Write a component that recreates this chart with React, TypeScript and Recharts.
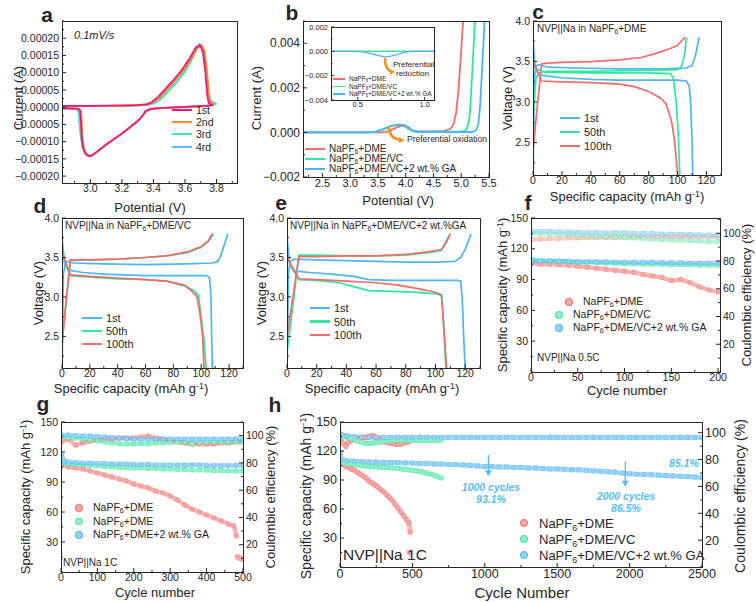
import React from "react";
import { LineChart, Line, XAxis, YAxis, ReferenceLine, ReferenceDot } from "recharts";

const FONT = '"Liberation Sans", Arial, Helvetica, sans-serif';
const INK = "#262626";

type P = [number, number];
type Box = { l: number; t: number; w: number; h: number };
const toXY = (a: P[]) => a.map(([x, y]) => ({ x, y }));

// ---------- a: CV curves (V, A)
const cvLabels = ["1st", "2nd", "3rd", "4rd"];
const cvColors = ["#f2167e", "#ff8b2b", "#3ee8c1", "#5bbcf6"];
const cv1st: P[] = [[2.82, 4e-6], [3.0, 4e-6], [3.2, 5e-6], [3.3, 6e-6], [3.36, 9e-6], [3.39, 1.5e-5], [3.43, 3e-5], [3.48, 5.5e-5], [3.53, 8e-5], [3.58, 1.08e-4], [3.63, 1.42e-4], [3.67, 1.74e-4], [3.695, 1.8e-4], [3.715, 1.6e-4], [3.73, 1.0e-4], [3.74, 4e-5], [3.75, 1.2e-5], [3.77, 6e-6], [3.74, 4e-6], [3.6, 1e-6], [3.45, -2e-6], [3.38, -5e-6], [3.35, -1.2e-5], [3.33, -2.5e-5], [3.3, -4e-5], [3.25, -5.8e-5], [3.2, -7.6e-5], [3.15, -9.2e-5], [3.1, -1.08e-4], [3.05, -1.26e-4], [3.01, -1.4e-4], [2.99, -1.42e-4], [2.97, -1.36e-4], [2.955, -1.2e-4], [2.945, -9e-5], [2.94, -4e-5], [2.935, -1e-5], [2.92, -4e-6], [2.82, -3e-6]];
const cv2nd: P[] = [[2.82, 3e-6], [3.2, 4e-6], [3.36, 7e-6], [3.4, 1.4e-5], [3.44, 2.8e-5], [3.49, 5.3e-5], [3.54, 7.8e-5], [3.59, 1.06e-4], [3.64, 1.4e-4], [3.68, 1.72e-4], [3.705, 1.8e-4], [3.725, 1.62e-4], [3.74, 1.05e-4], [3.75, 4.5e-5], [3.76, 1.5e-5], [3.78, 8e-6], [3.75, 4e-6], [3.6, 0], [3.45, -3e-6], [3.38, -6e-6], [3.35, -1.3e-5], [3.33, -2.6e-5], [3.3, -4.1e-5], [3.25, -5.9e-5], [3.2, -7.7e-5], [3.15, -9.3e-5], [3.1, -1.09e-4], [3.05, -1.27e-4], [3.01, -1.41e-4], [2.995, -1.43e-4], [2.975, -1.37e-4], [2.96, -1.2e-4], [2.95, -9e-5], [2.945, -4e-5], [2.94, -1e-5], [2.92, -4e-6], [2.82, -3e-6]];
const cv3rd: P[] = [[2.82, 3e-6], [3.2, 4e-6], [3.37, 7e-6], [3.41, 1.3e-5], [3.45, 2.6e-5], [3.5, 5e-5], [3.55, 7.5e-5], [3.6, 1.04e-4], [3.64, 1.36e-4], [3.67, 1.68e-4], [3.69, 1.83e-4], [3.71, 1.7e-4], [3.73, 1.1e-4], [3.745, 4.5e-5], [3.76, 1.6e-5], [3.785, 9e-6], [3.75, 5e-6], [3.6, 1e-6], [3.45, -3e-6], [3.38, -6e-6], [3.35, -1.4e-5], [3.33, -2.7e-5], [3.3, -4.2e-5], [3.25, -6e-5], [3.2, -7.8e-5], [3.15, -9.4e-5], [3.1, -1.1e-4], [3.05, -1.28e-4], [3.01, -1.4e-4], [2.99, -1.41e-4], [2.97, -1.35e-4], [2.95, -1.18e-4], [2.94, -8.5e-5], [2.93, -4e-5], [2.925, -1e-5], [2.91, -5e-6], [2.82, -4e-6]];
const cv4th: P[] = [[2.82, 3e-6], [3.2, 3e-6], [3.37, 6e-6], [3.41, 1.2e-5], [3.45, 2.5e-5], [3.5, 4.9e-5], [3.55, 7.4e-5], [3.6, 1.03e-4], [3.64, 1.35e-4], [3.67, 1.67e-4], [3.69, 1.82e-4], [3.71, 1.72e-4], [3.73, 1.12e-4], [3.745, 4.8e-5], [3.765, 1.8e-5], [3.795, 1e-5], [3.76, 5e-6], [3.6, 1e-6], [3.45, -3e-6], [3.38, -6e-6], [3.35, -1.4e-5], [3.33, -2.7e-5], [3.3, -4.2e-5], [3.25, -6e-5], [3.2, -7.8e-5], [3.15, -9.4e-5], [3.1, -1.1e-4], [3.05, -1.28e-4], [3.01, -1.39e-4], [2.99, -1.4e-4], [2.97, -1.34e-4], [2.95, -1.17e-4], [2.94, -8.5e-5], [2.93, -4e-5], [2.925, -1e-5], [2.91, -6e-6], [2.82, -5e-6]];
const cvData = [cv1st, cv2nd, cv3rd, cv4th];

// ---------- b: LSV (V, A)
const lsvColors = ["#f66b6b", "#2ee89a", "#4ab4f8"];
const lsvRed: P[] = [[2.15, 0], [3.55, 0], [3.65, 2e-5], [3.72, 8e-5], [3.8, 1.8e-4], [3.88, 2.7e-4], [3.93, 3e-4], [3.98, 2.7e-4], [4.05, 1.7e-4], [4.12, 9e-5], [4.2, 6e-5], [4.5, 5e-5], [4.7, 7e-5], [4.8, 1.5e-4], [4.86, 3.5e-4], [4.91, 9e-4], [4.95, 1.9e-3], [4.99, 3.3e-3], [5.02, 4.5e-3], [5.05, 5.6e-3]];
const lsvGreen: P[] = [[2.15, 0], [3.35, 0], [3.45, 4e-5], [3.55, 1.1e-4], [3.65, 2.2e-4], [3.75, 3e-4], [3.85, 3.4e-4], [3.95, 3.3e-4], [4.02, 2.6e-4], [4.08, 1.2e-4], [4.15, 4e-5], [4.5, 3e-5], [4.95, 3e-5], [5.05, 6e-5], [5.1, 1.6e-4], [5.14, 5e-4], [5.17, 1.4e-3], [5.2, 2.8e-3], [5.23, 4.2e-3], [5.26, 5.6e-3]];
const lsvBlue: P[] = [[2.15, 0], [3.38, 0], [3.48, 4e-5], [3.58, 1.1e-4], [3.68, 2.2e-4], [3.78, 3.1e-4], [3.88, 3.5e-4], [3.97, 3.4e-4], [4.05, 2.4e-4], [4.12, 8e-5], [4.2, 2e-5], [4.8, 1e-5], [5.2, 2e-5], [5.27, 1e-4], [5.31, 4e-4], [5.34, 1.2e-3], [5.37, 2.6e-3], [5.4, 4e-3], [5.43, 5.6e-3]];
const lsvData = [lsvRed, lsvGreen, lsvBlue];
const insetRed: P[] = [[0.3, 0], [1.07, 0]];
const insetGreen: P[] = [[0.3, 0], [1.07, 0]];
const insetBlue: P[] = [[0.3, 0], [0.5, 0], [0.55, -6e-5], [0.6, -1.8e-4], [0.65, -3.3e-4], [0.7, -4.5e-4], [0.75, -4e-4], [0.8, -2.5e-4], [0.85, -9e-5], [0.9, 0], [1.07, 0]];
const insetData = [insetRed, insetGreen, insetBlue];

// ---------- c, d, e: charge / discharge (mAh/g, V)
const gcdLabels = ["1st", "50th", "100th"];
const gcdColors = ["#4db6f7", "#2fe89d", "#f36b6b"];
const cBlueCh: P[] = [[0, 2.1], [1, 3.3], [2, 3.44], [4, 3.46], [10, 3.43], [30, 3.42], [60, 3.41], [90, 3.41], [106, 3.42], [110, 3.45], [112, 3.55], [115, 3.8]];
const cBlueDis: P[] = [[0, 3.75], [1.5, 3.42], [4, 3.34], [10, 3.32], [20, 3.3], [40, 3.28], [60, 3.27], [80, 3.27], [100, 3.27], [106, 3.26], [108, 3.2], [109, 3.0], [110, 2.5], [110.5, 2.1]];
const cGreenCh: P[] = [[0, 2.8], [2, 3.3], [5, 3.37], [10, 3.38], [40, 3.38], [80, 3.39], [100, 3.4], [103, 3.45], [105, 3.6], [106, 3.8]];
const cGreenDis: P[] = [[0, 3.5], [3, 3.4], [8, 3.37], [40, 3.36], [80, 3.36], [95, 3.35], [97, 3.3], [99, 3.0], [100.5, 2.6], [101.5, 2.1]];
const cRedCh: P[] = [[0, 2.4], [3, 2.95], [6, 3.47], [10, 3.48], [20, 3.49], [40, 3.5], [60, 3.52], [75, 3.55], [85, 3.6], [95, 3.66], [100, 3.7], [105, 3.8]];
const cRedDis: P[] = [[0, 3.5], [3, 3.38], [6, 3.26], [20, 3.25], [40, 3.24], [60, 3.22], [70, 3.19], [80, 3.13], [88, 3.05], [92, 2.98], [96, 2.75], [98, 2.5], [100, 2.1]];

const dBlueCh: P[] = [[0, 2.1], [1, 3.3], [3, 3.45], [8, 3.43], [30, 3.42], [60, 3.41], [90, 3.42], [108, 3.43], [112, 3.45], [114, 3.52], [116, 3.63], [119, 3.8]];
const dBlueDis: P[] = [[0, 3.75], [2, 3.4], [5, 3.34], [15, 3.31], [30, 3.29], [60, 3.27], [90, 3.27], [104, 3.27], [106, 3.24], [107, 3.0], [107.5, 2.5], [108, 2.1]];
const dGreenCh: P[] = [[0, 2.4], [3, 2.95], [6, 3.46], [20, 3.47], [40, 3.48], [60, 3.5], [75, 3.52], [90, 3.56], [100, 3.63], [105, 3.7], [109, 3.8]];
const dGreenDis: P[] = [[0, 3.55], [3, 3.4], [6, 3.27], [20, 3.25], [40, 3.23], [60, 3.22], [75, 3.2], [88, 3.14], [95, 3.08], [98, 3.02], [100, 2.75], [102, 2.45], [103.5, 2.1]];
const dRedCh: P[] = [[0, 2.4], [3, 2.95], [6, 3.47], [20, 3.47], [40, 3.48], [60, 3.5], [75, 3.52], [90, 3.57], [100, 3.64], [105, 3.71], [108, 3.8]];
const dRedDis: P[] = [[0, 3.57], [3, 3.42], [6, 3.28], [20, 3.26], [40, 3.24], [60, 3.22], [75, 3.2], [88, 3.15], [94, 3.06], [97, 3.0], [99, 2.8], [101, 2.5], [102, 2.1]];

const eBlueCh: P[] = [[0, 2.1], [1, 3.3], [2, 3.45], [5, 3.48], [20, 3.47], [40, 3.46], [60, 3.45], [80, 3.44], [100, 3.44], [113, 3.45], [117, 3.5], [120, 3.6], [124, 3.8]];
const eBlueDis: P[] = [[0, 3.75], [2, 3.4], [5, 3.33], [15, 3.31], [30, 3.29], [45, 3.26], [55, 3.22], [70, 3.21], [90, 3.21], [115, 3.21], [117, 3.2], [118, 3.0], [119, 2.5], [120, 2.1]];
const eGreenCh: P[] = [[0, 2.3], [4, 2.9], [8, 3.53], [20, 3.53], [40, 3.52], [60, 3.52], [80, 3.53], [95, 3.56], [104, 3.59], [107, 3.7], [110, 3.8]];
const eGreenDis: P[] = [[0, 3.5], [4, 3.35], [8, 3.22], [20, 3.21], [35, 3.18], [45, 3.13], [55, 3.08], [70, 3.07], [85, 3.06], [100, 3.04], [104, 3.02], [105, 2.8], [106, 2.5], [107, 2.1]];
const eRedCh: P[] = [[0, 2.5], [4, 3.0], [8, 3.51], [20, 3.51], [40, 3.52], [60, 3.52], [80, 3.54], [95, 3.57], [104, 3.6], [107, 3.68], [110, 3.8]];
const eRedDis: P[] = [[0, 3.5], [4, 3.36], [8, 3.23], [20, 3.22], [40, 3.2], [60, 3.18], [75, 3.15], [90, 3.1], [100, 3.06], [104, 3.03], [105, 2.8], [106, 2.5], [107.5, 2.1]];

// ---------- f, g, h: cycling (cycle, mAh/g) and (cycle, %)
const red = { line: "#f0605f", fill: "#f7aaa7" };
const green = { line: "#2ee39a", fill: "#95f0c8" };
const blue = { line: "#3aaef0", fill: "#95d2f7" };

const fRedCap: P[] = [[1, 106], [10, 105], [20, 105], [30, 104.5], [40, 104], [50, 103], [60, 102], [70, 101], [80, 100], [90, 99], [100, 98], [110, 97], [120, 95], [130, 93.5], [140, 92], [150, 89], [160, 90], [170, 87], [180, 83], [190, 80], [200, 78]];
const fGreenCap: P[] = [[1, 110], [10, 108.5], [20, 108], [30, 108], [40, 107.5], [50, 107], [60, 107], [70, 106.5], [80, 106], [90, 106], [100, 105.5], [110, 105.5], [120, 105], [130, 105], [140, 105], [150, 104.5], [160, 104.5], [170, 104.5], [180, 104], [190, 104], [200, 104]];
const fBlueCap: P[] = [[1, 108], [10, 108], [20, 108], [30, 108], [40, 108], [50, 107.5], [60, 107.5], [70, 107.5], [80, 107.5], [90, 107], [100, 107], [110, 107], [120, 107], [130, 107], [140, 106.5], [150, 106.5], [160, 106.5], [170, 106], [180, 106], [190, 106], [200, 106]];
const fRedCE: P[] = [[1, 95.5], [10, 95.8], [20, 96.2], [30, 96.2], [40, 96.6], [50, 96.6], [60, 96.9], [70, 96.9], [80, 96.9], [90, 96.9], [100, 97.3], [110, 97.3], [120, 97.3], [130, 97.3], [140, 97.7], [150, 97.7], [160, 97.7], [170, 97.7], [180, 97.7], [190, 97.7], [200, 97.7]];
const fGreenCE: P[] = [[1, 99.9], [10, 99.9], [20, 99.5], [30, 99.2], [40, 99.2], [50, 98.8], [60, 98.4], [70, 98.1], [80, 97.7], [90, 97.3], [100, 96.9], [110, 96.6], [120, 96.2], [130, 95.8], [140, 95.5], [150, 95.1], [160, 94.7], [170, 94.7], [180, 94.4], [190, 94], [200, 94]];
const fBlueCE: P[] = [[1, 101.4], [10, 101.4], [20, 101.4], [30, 101], [40, 101], [50, 100.6], [60, 100.6], [70, 100.6], [80, 100.3], [90, 100.3], [100, 100.3], [110, 99.9], [120, 99.9], [130, 99.9], [140, 99.5], [150, 99.5], [160, 99.2], [170, 99.2], [180, 98.8], [190, 98.8], [200, 98.4]];

const gRedCap: P[] = [[1, 107], [20, 105], [40, 104], [60, 103], [80, 101], [100, 99], [120, 97], [140, 95], [160, 93], [180, 91], [200, 88], [220, 86], [240, 84], [260, 81], [280, 79], [300, 76], [320, 72], [340, 67], [360, 63], [380, 60], [400, 57], [420, 54], [440, 51], [460, 48], [475, 46], [482, 36]];
const gRedTail: P[] = [[485, 15], [490, 14], [495, 13.5], [500, 13]];
const gRedCE: P[] = [[1, 95.3], [20, 97.5], [40, 93], [60, 94.6], [80, 96], [100, 96.8], [120, 97.5], [140, 97.5], [160, 98.2], [180, 98.2], [200, 98.2], [220, 99], [240, 99.7], [260, 98.2], [280, 97.5], [300, 96], [320, 95.3], [340, 94.6], [360, 93.8], [380, 93.8], [400, 93.8], [420, 93.8], [440, 94.6], [460, 94.6], [480, 95.3], [500, 95.3]];
const gGreenCap: P[] = [[1, 109], [20, 108], [40, 107.5], [60, 107], [80, 106.5], [100, 106], [120, 105.5], [140, 105], [160, 104.5], [180, 104.5], [200, 104], [220, 104], [240, 103.5], [260, 103.5], [280, 103], [300, 103], [320, 102.5], [340, 102.5], [360, 102], [380, 102], [400, 102], [420, 101.5], [440, 101.5], [460, 101], [480, 101], [500, 101]];
const gGreenCE: P[] = [[1, 99], [20, 98.6], [40, 98.2], [60, 97.5], [80, 96.8], [100, 96], [120, 95.3], [140, 94.6], [160, 94], [180, 93.8], [200, 93.8], [220, 94], [240, 94.2], [260, 94.6], [280, 94.6], [300, 95], [320, 95.3], [340, 95.3], [360, 94], [380, 95.3], [400, 95.3], [420, 95.3], [440, 95.3], [460, 95.3], [480, 95.3], [500, 95.3]];
const gBlueCap: P[] = [[1, 117], [10, 111], [20, 110], [40, 109.5], [60, 109], [80, 109], [100, 108.5], [120, 108.5], [140, 108], [160, 108], [180, 108], [200, 107.5], [220, 107.5], [240, 107.5], [260, 107], [280, 107], [300, 107], [320, 107], [340, 107], [360, 107], [380, 107], [400, 106.5], [420, 106.5], [440, 106.5], [460, 106.5], [480, 106.5], [500, 106.5]];
const gBlueCE: P[] = [[1, 100.4], [20, 100.4], [40, 100], [60, 99.7], [80, 99.7], [100, 99.3], [120, 99], [140, 98.6], [160, 98.2], [180, 97.9], [200, 97.5], [220, 97.5], [240, 97.5], [260, 97.5], [280, 97.5], [300, 97.5], [320, 97.5], [340, 97.5], [360, 97.5], [380, 97.5], [400, 97.5], [420, 97.5], [440, 97.5], [460, 97.5], [480, 97.5], [500, 97.5]];

const hRedCap: P[] = [[1, 108], [20, 106], [40, 104], [60, 103], [80, 101], [100, 100], [120, 98], [140, 96], [160, 94], [180, 92], [200, 89], [220, 87], [240, 85], [260, 83], [280, 80], [300, 78], [320, 75], [340, 72], [360, 69], [380, 65], [400, 61], [420, 57], [440, 53], [460, 49], [475, 46], [485, 36]];
const hRedTail: P[] = [[480, 15]];
const hRedCE: P[] = [[1, 95], [20, 92.2], [40, 90], [60, 92.9], [80, 94.3], [100, 95], [120, 95.8], [140, 95.8], [160, 96.5], [180, 96.5], [200, 97.2], [220, 97.9], [240, 97.2], [260, 95.8], [280, 94.3], [300, 93.6], [320, 92.9], [340, 92.2], [360, 92.2], [380, 91.4], [400, 91.4], [420, 91.4], [440, 92.2], [460, 92.9], [480, 93.6]];
const hGreenCap: P[] = [[1, 110], [25, 108], [50, 107], [75, 106.5], [100, 106], [125, 105.5], [150, 105], [175, 104.5], [200, 104], [225, 104], [250, 103.5], [275, 103.5], [300, 103], [325, 103], [350, 102.5], [375, 102.5], [400, 102], [425, 101.5], [450, 101], [475, 100.5], [500, 100], [525, 99.5], [550, 99], [575, 98], [600, 97], [625, 96], [650, 95], [675, 93.5], [700, 92]];
const hGreenCE: P[] = [[1, 98.6], [25, 97.2], [50, 96.5], [75, 95.8], [100, 95], [125, 93.6], [150, 92.9], [175, 92.2], [200, 92.2], [225, 92.2], [250, 92.9], [275, 92.9], [300, 93.6], [325, 93.6], [350, 94.3], [375, 94.3], [400, 94.3], [425, 94.3], [450, 94.3], [475, 94.3], [500, 94.3], [525, 94.3], [550, 94.3], [575, 94.3], [600, 94.3], [625, 94.3], [650, 94.3], [675, 94.3], [700, 94.3]];
const hBlueCap: P[] = [[1, 118], [10, 111], [50, 110], [100, 109.5], [150, 109], [200, 108.5], [250, 108.5], [300, 108], [350, 108], [400, 108], [450, 107.5], [500, 107.5], [550, 107], [600, 107], [650, 106.5], [700, 106.5], [750, 106], [800, 106], [850, 105.5], [900, 105], [950, 104.5], [1000, 104], [1050, 104], [1100, 103.5], [1150, 103.5], [1200, 103], [1250, 103], [1300, 102.5], [1350, 102.5], [1400, 102], [1450, 101.5], [1500, 101.5], [1550, 101], [1600, 100.5], [1650, 100.5], [1700, 100], [1750, 99.5], [1800, 99], [1850, 98.5], [1900, 98], [1950, 97], [2000, 96.5], [2050, 96], [2100, 95.8], [2150, 95.5], [2200, 95], [2250, 94.6], [2300, 94.2], [2350, 93.8], [2400, 93.5], [2450, 93], [2500, 92.5]];
const hBlueCE: P[] = [[1, 99.5], [10, 98.5], [50, 97.5], [100, 97], [150, 96.8], [200, 96.6], [250, 96.5], [300, 96.4], [350, 96.6], [400, 96.5], [450, 96.4], [500, 96.5], [550, 96.6], [600, 96.5], [650, 96.4], [700, 96.5], [750, 96.5], [800, 96.4], [850, 96.6], [900, 96.5], [950, 96.4], [1000, 96.5], [1050, 96.5], [1100, 96.4], [1150, 96.6], [1200, 96.5], [1250, 96.4], [1300, 96.5], [1350, 96.5], [1400, 96.4], [1450, 96.6], [1500, 96.5], [1550, 96.4], [1600, 96.5], [1650, 96.5], [1700, 96.4], [1750, 96.6], [1800, 96.5], [1850, 96.4], [1900, 96.5], [1950, 96.5], [2000, 96.4], [2050, 96.6], [2100, 96.5], [2150, 96.4], [2200, 96.5], [2250, 96.5], [2300, 96.4], [2350, 96.6], [2400, 96.5], [2450, 96.4], [2500, 96.5]];
const hArrows = [{ x: 1025, from: 116, to: 94 }, { x: 1970, from: 109, to: 83 }];

// ---------- helpers
const allTicks = (lo: number, hi: number, step: number) => {
  const out: number[] = [];
  for (let k = Math.ceil(lo / step - 1e-9); k * step <= hi + 1e-12; k++) out.push(+(k * step).toFixed(9));
  return out;
};
const near = (a: number[], v: number) => a.some((m) => Math.abs(m - v) < 1e-9);
const sgn = (s: string, v: number) => (v < 0 ? "\u2212" : "") + s;
const f5 = (v: number) => sgn(Math.abs(v).toFixed(5), v);
const f3 = (v: number) => sgn(Math.abs(v).toFixed(3), v);
const f1 = (v: number) => v.toFixed(1);
const f0 = (v: number) => String(v);

function tickFn(orient: "left" | "right" | "bottom", majors: number[], fmt: (v: number) => string, size: number, len = 4) {
  return (p: any) => {
    const { x, y, payload } = p;
    const v = payload.value;
    const major = near(majors, v);
    const l = major ? len : len / 2;
    if (orient === "bottom") {
      return (
        <g>
          <line x1={x} x2={x} y1={y} y2={y - l} stroke={INK} strokeWidth={1} />
          {major && (
            <text x={x} y={y + 2} dy="0.71em" textAnchor="middle" fontSize={size} fontFamily={FONT} fill={INK}>
              {fmt(v)}
            </text>
          )}
        </g>
      );
    }
    const dir = orient === "left" ? 1 : -1;
    return (
      <g>
        <line x1={x} x2={x + dir * l} y1={y} y2={y} stroke={INK} strokeWidth={1} />
        {major && (
          <text x={x - dir * 3} y={y} dy="0.35em" textAnchor={orient === "left" ? "end" : "start"} fontSize={size} fontFamily={FONT} fill={INK}>
            {fmt(v)}
          </text>
        )}
      </g>
    );
  };
}

const axisBase = { type: "number" as const, interval: 0 as const, tickSize: 0, tickMargin: 0, axisLine: false, tickLine: false, allowDataOverflow: true };

function T({ x, y, s = 12, rot = 0, a = "m", b = false, i = false, c = INK, children }: any) {
  const tx = a === "m" ? "-50%" : a === "e" ? "-100%" : "0";
  return (
    <div style={{ position: "absolute", left: x, top: y, transform: `translate(${tx},-50%) rotate(${rot}deg)`, fontSize: s, fontWeight: b ? 700 : 400, fontStyle: i ? "italic" : "normal", color: c, whiteSpace: "nowrap", lineHeight: 1, fontFamily: FONT }}>
      {children}
    </div>
  );
}
const Sub = ({ children }: any) => <span style={{ fontSize: "0.68em", position: "relative", top: "0.3em" }}>{children}</span>;
const Sup = ({ children }: any) => <span style={{ fontSize: "0.68em", position: "relative", top: "-0.5em" }}>{children}</span>;
const Na = () => <>NaPF<Sub>6</Sub></>;
const Cap = () => <>Specific capacity (mAh g<Sup>-1</Sup>)</>;

const Frame = ({ b }: { b: Box }) => (
  <div style={{ position: "absolute", left: b.l, top: b.t, width: b.w + 1, height: b.h + 1, border: `1px solid ${INK}`, boxSizing: "border-box" }} />
);

function LineKey({ x, y, color, w = 20, th = 2.2, s = 10.5, children }: any) {
  return (
    <>
      <div style={{ position: "absolute", left: x, top: y - th / 2, width: w, height: th, background: color }} />
      <T x={x + w + 4} y={y} s={s} a="s">{children}</T>
    </>
  );
}
function DotKey({ x, y, col, s = 10.5, gap = 14, r = 3.6, children }: any) {
  return (
    <>
      <div style={{ position: "absolute", left: x - r, top: y - r, width: 2 * r, height: 2 * r, borderRadius: "50%", background: col.fill, border: `1px solid ${col.line}`, boxSizing: "border-box" }} />
      <T x={x + gap} y={y} s={s} a="s">{children}</T>
    </>
  );
}

function Chart({ b, lw, rw = 8, bh = 26, pt = 9, hasRight = false, children }: any) {
  return (
    <div style={{ position: "absolute", left: b.l - lw, top: b.t - pt }}>
      <LineChart width={lw + b.w + rw} height={pt + b.h + bh} margin={{ top: pt, right: hasRight ? 0 : rw, bottom: 0, left: 0 }}>
        {children}
      </LineChart>
    </div>
  );
}

// ---------- boxes
const A: Box = { l: 62, t: 21, w: 175, h: 162 };
const B: Box = { l: 303, t: 21, w: 186, h: 156 };
const BI: Box = { l: 331, t: 27, w: 103, h: 73 };
const C: Box = { l: 533, t: 21, w: 188, h: 154 };
const D: Box = { l: 62, t: 218, w: 181, h: 150 };
const E: Box = { l: 287, t: 218, w: 193, h: 150 };
const F: Box = { l: 531, t: 218, w: 189, h: 154 };
const G: Box = { l: 61, t: 422, w: 182, h: 150 };
const H: Box = { l: 340, t: 422, w: 362, h: 145 };

const aX = [3.0, 3.2, 3.4, 3.6, 3.8];
const aY = [-0.0002, -0.00015, -0.0001, -0.00005, 0, 0.00005, 0.0001, 0.00015, 0.0002];
const bX = [2.5, 3.0, 3.5, 4.0, 4.5, 5.0, 5.5];
const bY = [-0.002, 0, 0.002, 0.004];
const biX = [0.5, 1.0];
const biY = [-0.004, -0.002, 0, 0.002];
const gcdX = [0, 20, 40, 60, 80, 100, 120];
const gcdY = [2.5, 3.0, 3.5, 4.0];
const capY = [30, 60, 90, 120, 150];
const ceY = [20, 40, 60, 80, 100];
const fX = [0, 50, 100, 150, 200];
const gX = [0, 100, 200, 300, 400, 500];
const hX = [0, 500, 1000, 1500, 2000, 2500];

function GCD({ b, ch, dis }: { b: Box; ch: P[][]; dis: P[][] }) {
  return (
    <Chart b={b} lw={30}>
      <XAxis {...axisBase} dataKey="x" domain={[0, 130]} ticks={allTicks(0, 130, 10)} height={26} tick={tickFn("bottom", gcdX, f0, 10.5)} />
      <YAxis {...axisBase} domain={[2.1, 4.0]} ticks={allTicks(2.1, 4.0, 0.25)} width={30} tick={tickFn("left", gcdY, f1, 10.5)} />
      {[0, 1, 2].map((k) => (
        <Line key={"c" + k} data={toXY(ch[k])} dataKey="y" stroke={gcdColors[k]} strokeWidth={1.7} dot={false} isAnimationActive={false} type="linear" />
      ))}
      {[0, 1, 2].map((k) => (
        <Line key={"d" + k} data={toXY(dis[k])} dataKey="y" stroke={gcdColors[k]} strokeWidth={1.7} dot={false} isAnimationActive={false} type="linear" />
      ))}
    </Chart>
  );
}

type Ser = { cap: P[]; ce: P[]; col: { line: string; fill: string }; ceCol: { line: string; fill: string } };

function Cyc({ b, xd, xt, xMaj, rd, ser, extra, size = 10.5, lw = 28, rw = 26, bw = 4.5, r = 2.3, children }: any) {
  return (
    <Chart b={b} lw={lw} rw={rw} hasRight bh={28}>
      <XAxis {...axisBase} dataKey="x" domain={xd} ticks={allTicks(xd[0], xd[1], xt)} height={28} tick={tickFn("bottom", xMaj, f0, size)} />
      <YAxis {...axisBase} yAxisId="L" domain={[0, 150]} ticks={allTicks(0, 150, 15)} width={lw} tick={tickFn("left", capY, f0, size)} />
      <YAxis {...axisBase} yAxisId="R" orientation="right" domain={[0, rd]} ticks={allTicks(0, rd, 10)} width={rw} tick={tickFn("right", ceY, f0, size)} />
      {ser.map((s: Ser, k: number) => (
        <Line key={"ce" + k} yAxisId="R" data={toXY(s.ce)} dataKey="y" stroke={s.ceCol.line} strokeOpacity={0.45} strokeWidth={bw} dot={{ r, stroke: s.ceCol.line, strokeWidth: 0.8, fill: s.ceCol.fill }} activeDot={false} isAnimationActive={false} type="linear" />
      ))}
      {ser.map((s: Ser, k: number) => (
        <Line key={"cap" + k} yAxisId="L" data={toXY(s.cap)} dataKey="y" stroke={s.col.line} strokeOpacity={0.45} strokeWidth={bw} dot={{ r, stroke: s.col.line, strokeWidth: 0.8, fill: s.col.fill }} activeDot={false} isAnimationActive={false} type="linear" />
      ))}
      {extra &&
        extra.map((t: P[], k: number) => (
          <Line key={"tail" + k} yAxisId="L" data={toXY(t)} dataKey="y" stroke={red.line} strokeOpacity={0} dot={{ r: r + 0.6, stroke: red.line, strokeWidth: 0.8, fill: red.fill }} activeDot={false} isAnimationActive={false} type="linear" />
        ))}
      {children}
    </Chart>
  );
}

const fLight = {
  red: { line: "#f3a08e", fill: "#f8c9bd" },
  green: { line: "#6fe6ae", fill: "#b5f3d6" },
  blue: { line: "#74c6f4", fill: "#b7e1f9" },
};

const arrowHead = (color: string) => (p: any) => (
  <path d={`M${p.cx - 3.5},${p.cy - 6} L${p.cx + 3.5},${p.cy - 6} L${p.cx},${p.cy} Z`} fill={color} />
);

export default function App() {
  const hBlueTxt = "#55bdf3";
  return (
    <div style={{ position: "absolute", left: 0, top: 0, width: 756, height: 602, background: "#fff", overflow: "hidden", fontFamily: FONT }}>
      {/* a */}
      <Chart b={A} lw={60}>
        <XAxis {...axisBase} dataKey="x" domain={[2.82, 3.93]} ticks={allTicks(2.82, 3.93, 0.1)} height={26} tick={tickFn("bottom", aX, f1, 10.5)} />
        <YAxis {...axisBase} domain={[-0.00022, 0.00025]} ticks={allTicks(-0.00022, 0.00025, 0.000025)} width={60} tick={tickFn("left", aY, f5, 10.5)} />
        {[3, 2, 1, 0].map((k) => (
          <Line key={k} data={toXY(cvData[k])} dataKey="y" stroke={cvColors[k]} strokeWidth={1.8} dot={false} isAnimationActive={false} type="linear" />
        ))}
      </Chart>
      {/* b */}
      <Chart b={B} lw={44} rw={12}>
        <XAxis {...axisBase} dataKey="x" domain={[2.15, 5.5]} ticks={allTicks(2.15, 5.5, 0.25)} height={26} tick={tickFn("bottom", bX, f1, 11)} />
        <YAxis {...axisBase} domain={[-0.002, 0.005]} ticks={allTicks(-0.002, 0.005, 0.001)} width={44} tick={tickFn("left", bY, f3, 12)} />
        {lsvData.map((d, k) => (
          <Line key={k} data={toXY(d)} dataKey="y" stroke={lsvColors[k]} strokeWidth={1.8} dot={false} isAnimationActive={false} type="linear" />
        ))}
      </Chart>
      <Chart b={BI} lw={28} bh={14} rw={6} pt={5}>
        <XAxis {...axisBase} dataKey="x" domain={[0.3, 1.07]} ticks={allTicks(0.3, 1.07, 0.25)} height={14} tick={tickFn("bottom", biX, f1, 7.5, 3)} />
        <YAxis {...axisBase} domain={[-0.004, 0.002]} ticks={allTicks(-0.004, 0.002, 0.001)} width={28} tick={tickFn("left", biY, f3, 7.5, 3)} />
        {insetData.map((d, k) => (
          <Line key={k} data={toXY(d)} dataKey="y" stroke={lsvColors[k]} strokeWidth={1.3} dot={false} isAnimationActive={false} type="linear" />
        ))}
      </Chart>
      {/* c d e */}
      <GCD b={C} ch={[cBlueCh, cGreenCh, cRedCh]} dis={[cBlueDis, cGreenDis, cRedDis]} />
      <GCD b={D} ch={[dBlueCh, dGreenCh, dRedCh]} dis={[dBlueDis, dGreenDis, dRedDis]} />
      <GCD b={E} ch={[eBlueCh, eGreenCh, eRedCh]} dis={[eBlueDis, eGreenDis, eRedDis]} />
      {/* f */}
      <Cyc b={F} xd={[0, 202]} xt={25} xMaj={fX} rd={111} lw={28} rw={26}
        ser={[
          { cap: fRedCap, ce: fRedCE, col: red, ceCol: fLight.red },
          { cap: fGreenCap, ce: fGreenCE, col: green, ceCol: fLight.green },
          { cap: fBlueCap, ce: fBlueCE, col: blue, ceCol: fLight.blue },
        ]} />
      {/* g */}
      <Cyc b={G} xd={[0, 500]} xt={50} xMaj={gX} rd={110} lw={30} rw={24} extra={[gRedTail]}
        ser={[
          { cap: gRedCap, ce: gRedCE, col: red, ceCol: red },
          { cap: gGreenCap, ce: gGreenCE, col: green, ceCol: green },
          { cap: gBlueCap, ce: gBlueCE, col: blue, ceCol: blue },
        ]} />
      {/* h */}
      <Cyc b={H} xd={[0, 2500]} xt={250} xMaj={hX} rd={108} size={12.5} lw={34} rw={30} bw={5} r={2.4} extra={[hRedTail]}
        ser={[
          { cap: hRedCap, ce: hRedCE, col: red, ceCol: red },
          { cap: hGreenCap, ce: hGreenCE, col: green, ceCol: green },
          { cap: hBlueCap, ce: hBlueCE, col: blue, ceCol: blue },
        ]}>
        {hArrows.map((a, k) => (
          <ReferenceLine key={"al" + k} yAxisId="L" segment={[{ x: a.x, y: a.from }, { x: a.x, y: a.to + 3 }]} stroke={hBlueTxt} strokeWidth={1.3} ifOverflow="visible" />
        ))}
        {hArrows.map((a, k) => (
          <ReferenceDot key={"ah" + k} yAxisId="L" x={a.x} y={a.to} r={3} shape={arrowHead(hBlueTxt)} ifOverflow="visible" />
        ))}
      </Cyc>

      {/* frames */}
      {[A, B, BI, C, D, E, F, G, H].map((b, k) => (
        <Frame key={k} b={b} />
      ))}

      {/* orange annotation arrows in b */}
      <svg width={756} height={602} style={{ position: "absolute", left: 0, top: 0, pointerEvents: "none" }}>
        <path d="M385,59 Q385,69 391,71.5" stroke="#f7931e" strokeWidth={2.6} fill="none" strokeLinecap="round" />
        <path d="M390,69 L395,72 L390,74.5 Z" fill="#f7931e" />
        <path d="M389,127 Q389,138 400,140" stroke="#f7931e" strokeWidth={2.6} fill="none" strokeLinecap="round" />
        <path d="M399,137 L405,140.5 L399,143 Z" fill="#f7931e" />
      </svg>

      {/* panel letters */}
      <T x={47} y={14} s={21} b>a</T>
      <T x={292} y={12} s={21} b>b</T>
      <T x={538} y={11} s={21} b>c</T>
      <T x={40} y={205} s={21} b>d</T>
      <T x={281} y={202} s={21} b>e</T>
      <T x={528} y={202} s={21} b>f</T>
      <T x={43} y={403} s={21} b>g</T>
      <T x={275} y={404} s={21} b>h</T>

      {/* a texts */}
      <T x={18} y={98} s={13} rot={-90}>Current (A)</T>
      <T x={150} y={207} s={13}>Potential (V)</T>
      <T x={74} y={35} s={11} i a="s">0.1mV/s</T>
      {cvLabels.map((l, k) => (
        <LineKey key={l} x={172} y={110 + k * 12.2} color={cvColors[k]} s={10.5}>{l}</LineKey>
      ))}

      {/* b texts */}
      <T x={256} y={98} s={13} rot={-90}>Current (A)</T>
      <T x={398} y={200} s={13}>Potential (V)</T>
      {["+DME", "+DME/VC", "+DME/VC+2 wt.% GA"].map((l, k) => (
        <LineKey key={l} x={305} y={149 + k * 10} color={lsvColors[k]} s={10} th={2.6}><Na />{l}</LineKey>
      ))}
      {["+DME", "+DME/VC", "+DME/VC+2 wt.% GA"].map((l, k) => (
        <LineKey key={"i" + l} x={333} y={79 + k * 7.5} w={12} th={1.4} color={lsvColors[k]} s={6.5}><Na />{l}</LineKey>
      ))}
      <T x={393} y={65} s={8} a="s">Preferential</T>
      <T x={396} y={74} s={8} a="s">reduction</T>
      <T x={407} y={138.5} s={8.5} a="s">Preferential oxidation</T>

      {/* c texts */}
      <T x={507} y={98} s={13} rot={-90}>Voltage (V)</T>
      <T x={627} y={196} s={13}><Cap /></T>
      <T x={537} y={29} s={10} a="s">NVP||Na in <Na />+DME</T>
      {gcdLabels.map((l, k) => (
        <LineKey key={"c" + l} x={560} y={118 + k * 14} color={gcdColors[k]} s={11}>{l}</LineKey>
      ))}

      {/* d texts */}
      <T x={38} y={293} s={13} rot={-90}>Voltage (V)</T>
      <T x={131} y={388} s={13}><Cap /></T>
      <T x={65} y={226} s={10} a="s">NVP||Na in <Na />+DME/VC</T>
      {gcdLabels.map((l, k) => (
        <LineKey key={"d" + l} x={82} y={318 + k * 12.8} color={gcdColors[k]} s={11}>{l}</LineKey>
      ))}

      {/* e texts */}
      <T x={261} y={293} s={13} rot={-90}>Voltage (V)</T>
      <T x={382} y={388} s={13}><Cap /></T>
      <T x={290} y={226} s={10} a="s">NVP||Na in <Na />+DME/VC+2 wt.%GA</T>
      {gcdLabels.map((l, k) => (
        <LineKey key={"e" + l} x={310} y={308 + k * 13.5} color={gcdColors[k]} s={11}>{l}</LineKey>
      ))}

      {/* f texts */}
      <T x={502} y={295} s={13} rot={-90}><Cap /></T>
      <T x={746} y={295} s={13} rot={-90}>Coulombic efficiency (%)</T>
      <T x={627} y={390} s={13}>Cycle number</T>
      <DotKey x={569} y={302} col={red}><Na />+DME</DotKey>
      <DotKey x={559} y={315} col={green}><Na />+DME/VC</DotKey>
      <DotKey x={559} y={328} col={blue}><Na />+DME/VC+2 wt.% GA</DotKey>
      <T x={537} y={358} s={10} a="s">NVP||Na 0.5C</T>

      {/* g texts */}
      <T x={25} y={497} s={13} rot={-90}><Cap /></T>
      <T x={270} y={497} s={13} rot={-90}>Coulombic efficiency (%)</T>
      <T x={155} y={592} s={13}>Cycle number</T>
      <DotKey x={79} y={508} col={red}><Na />+DME</DotKey>
      <DotKey x={79} y={521.5} col={green}><Na />+DME</DotKey>
      <DotKey x={79} y={535} col={blue}><Na />+DME+2 wt.% GA</DotKey>
      <T x={63} y={563} s={10} a="s">NVP||Na 1C</T>

      {/* h texts */}
      <T x={306} y={496} s={14} rot={-90}><Cap /></T>
      <T x={740} y={496} s={14} rot={-90}>Coulombic efficiency (%)</T>
      <T x={522} y={592} s={15}>Cycle Number</T>
      <DotKey x={524} y={523} col={red} s={13} gap={15} r={4.2}><Na />+DME</DotKey>
      <DotKey x={524} y={539} col={green} s={13} gap={15} r={4.2}><Na />+DME/VC</DotKey>
      <DotKey x={524} y={555} col={blue} s={13} gap={15} r={4.2}><Na />+DME/VC+2 wt.% GA</DotKey>
      <T x={343} y={555} s={15.5} a="s">NVP||Na 1C</T>
      <T x={491} y={487} s={10.5} b i c={hBlueTxt}>1000 cycles</T>
      <T x={491} y={499} s={10.5} b i c={hBlueTxt}>93.1%</T>
      <T x={626} y={496} s={10.5} b i c={hBlueTxt}>2000 cycles</T>
      <T x={626} y={508} s={10.5} b i c={hBlueTxt}>86.5%</T>
      <T x={684} y={463} s={10.5} b i c={hBlueTxt}>85.1%</T>
    </div>
  );
}
